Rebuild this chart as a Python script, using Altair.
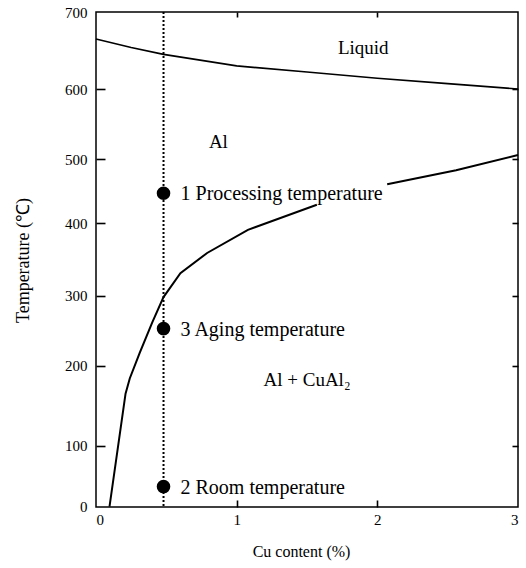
import altair as alt
import pandas as pd

# Liquidus line (Cu %, temperature °C)
liq_cu = [0.0, 0.25, 0.48, 1.0, 1.5, 2.0, 2.5, 3.0]
liq_t = [665, 654, 645, 630, 622, 614, 607, 600]

# Solvus curve, drawn in two pieces (interrupted by the label)
sol_cu = [0.096, 0.21, 0.24, 0.31, 0.40, 0.48, 0.60, 0.79, 1.08, 1.57, 2.07, 2.56, 3.0]
sol_t = [0, 165, 184, 218, 262, 298, 331, 359, 391, 429, 461, 483, 506]
sol_seg = [1, 1, 1, 1, 1, 1, 1, 1, 1, 1, 2, 2, 2]

# Alloy composition (dotted line) and marked states
alloy_cu = [0.48]
pt_num = ["1", "3", "2"]
pt_name = ["Processing temperature", "Aging temperature", "Room temperature"]
pt_t = [447, 253, 33]

# Region labels
reg_text = ["Liquid", "Al", "Al + CuAl₂"]
reg_cu = [1.90, 0.87, 1.50]
reg_t = [653, 524, 182]

y_ticks = [0, 100, 200, 300, 400, 500, 600, 700]
y_inner_ticks = [100, 200, 300, 400, 500, 600]
x_ticks = [0, 1, 2, 3]
x_inner_ticks = [1, 2]

W, H = 422, 495
FONT = "Liberation Serif"

liq = pd.DataFrame({"cu": liq_cu, "t": liq_t})
sol = pd.DataFrame({"cu": sol_cu, "t": sol_t, "seg": sol_seg})
alloy = pd.DataFrame({"cu": alloy_cu})
pts = pd.DataFrame({"cu": alloy_cu * 3, "t": pt_t,
                    "lab": [n + " " + s for n, s in zip(pt_num, pt_name)]})
reg = pd.DataFrame({"cu": reg_cu, "t": reg_t, "lab": reg_text})

xscale = alt.Scale(domain=[0, 3], nice=False, zero=False)
# scanned figure: tick spacing is slightly uneven
yscale = alt.Scale(domain=y_ticks,
                   range=[494.7, 433.7, 353.7, 283.7, 211.3, 147.3, 77, 0])

def tick_axis(orient, offset, values, size):
    # tick-only axis moved onto the opposite edge so its ticks point inward
    return alt.Axis(orient=orient, offset=offset, values=values, labels=False,
                    domain=False, grid=False, ticks=True, tickSize=size,
                    tickColor="black", tickWidth=1.6, title=None)

rule = alt.Chart(alloy).mark_rule(color="black", strokeWidth=2, strokeDash=[2, 2]).encode(
    x=alt.X("cu:Q", scale=xscale, axis=None)
)

liq_line = alt.Chart(liq).mark_line(color="black", strokeWidth=1.6).encode(
    x=alt.X("cu:Q", scale=xscale, axis=tick_axis("top", -H, x_inner_ticks, 7)),
    y=alt.Y("t:Q", scale=yscale, axis=tick_axis("right", -W, y_inner_ticks, 9)),
)

sol_line = alt.Chart(sol).mark_line(color="black", strokeWidth=2).encode(
    x=alt.X("cu:Q", scale=xscale, axis=tick_axis("bottom", -H, x_inner_ticks, 5)),
    y=alt.Y("t:Q", scale=yscale, axis=tick_axis("left", -W, y_inner_ticks, 6)),
    detail="seg:N",
)

points = alt.Chart(pts).mark_circle(color="black", opacity=1, size=185).encode(
    x=alt.X("cu:Q", scale=xscale, axis=alt.Axis(
        orient="bottom", values=x_ticks, format="d", tickSize=0, domain=False, grid=False,
        labelFont=FONT, labelFontSize=15, labelColor="black", labelPadding=5,
        title="Cu content (%)", titleFont=FONT, titleFontSize=16, titleFontWeight="normal",
        titleColor="black", titleX=205, titleY=44, titleBaseline="middle")),
    y=alt.Y("t:Q", scale=yscale, axis=alt.Axis(
        orient="left", values=y_ticks, format="d", tickSize=0, domain=False, grid=False,
        labelFont=FONT, labelFontSize=15, labelColor="black", labelPadding=9,
        title="Temperature (℃)", titleFont=FONT, titleFontSize=18, titleFontWeight="normal",
        titleColor="black", titleX=-68, titleY=248, titleAngle=-90,
        titleBaseline="alphabetic", titleAlign="center")),
)

pt_text = alt.Chart(pts).mark_text(align="left", baseline="middle", dx=17, dy=1,
                                   font=FONT, fontSize=20, color="black").encode(
    x=alt.X("cu:Q", scale=xscale, axis=None),
    y=alt.Y("t:Q", scale=yscale, axis=None),
    text="lab:N",
)

reg_label = alt.Chart(reg).mark_text(align="center", baseline="middle",
                                     font=FONT, fontSize=19, color="black").encode(
    x=alt.X("cu:Q", scale=xscale, axis=None),
    y=alt.Y("t:Q", scale=yscale, axis=None),
    text="lab:N",
)

chart = alt.layer(rule, liq_line, sol_line, points, pt_text, reg_label).resolve_axis(
    x="independent", y="independent"
).properties(
    width=W, height=H,
    autosize=alt.AutoSizeParams(type="none"),
    padding={"left": 96, "top": 12, "right": 8, "bottom": 61},
    background="white",
).configure_view(stroke="black", strokeWidth=1.5)

chart.save("out.html", embed_options={"renderer": "svg", "actions": False})
